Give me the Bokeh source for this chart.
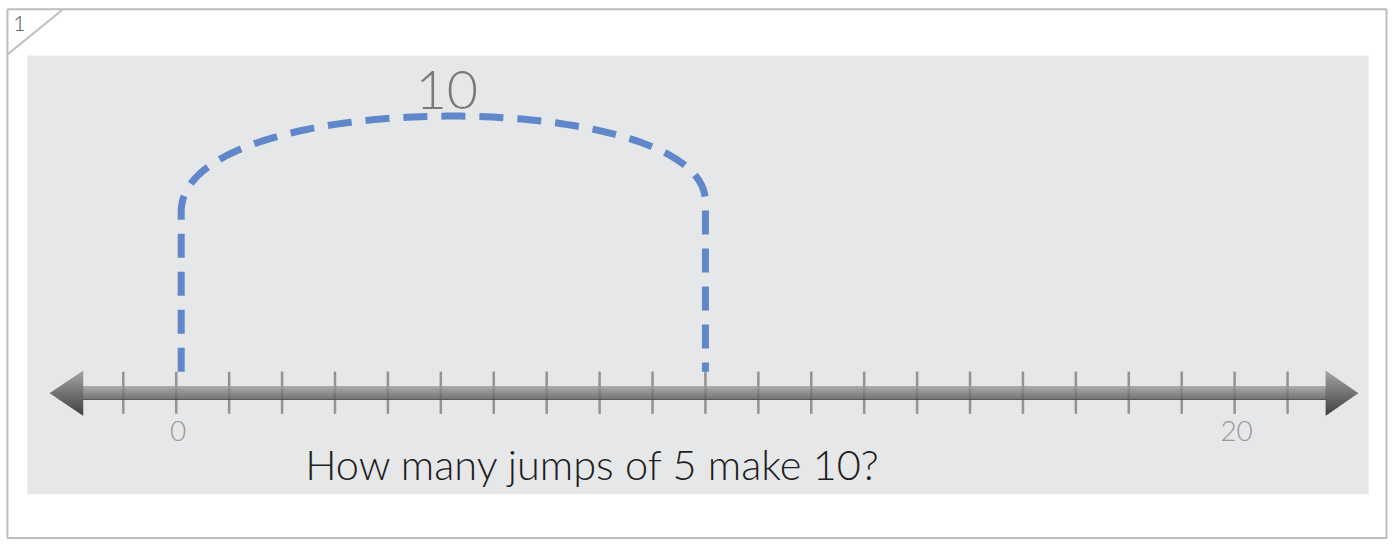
import numpy as np
from bokeh.plotting import figure
from bokeh.models import Range1d
from bokeh.core.properties import value
from bokeh.embed import file_html
from bokeh.resources import INLINE

# ---------------- data ----------------
tick_values = list(range(-1, 22))          # number-line ticks
label_values = [0, 20]                      # labelled ticks
label_texts = ["0", "20"]
jump_starts = [0]
jump_ends = [10]
jump_labels = ["10"]
question = "How many jumps of 5 make 10?"
problem_number = "1"

# ---------------- layout (pixels) ----------------
W, H = 1390, 540
REF_W, REF_H = 1400.0, 550.0
FX, FY = W / REF_W, H / REF_H
ORIGIN_SX = 177.0       # reference x of 0
UNIT = 53.3             # reference px per unit
AXIS_SY = 400.0         # reference y of the number line


def X(sx):
    return (sx - ORIGIN_SX) / UNIT


def Y(sy):
    return (AXIS_SY - sy) * FY


p = figure(width=W, height=H, output_backend="svg", toolbar_location=None,
           x_range=Range1d(X(0), X(REF_W)),
           y_range=Range1d(Y(REF_H), Y(0)),
           min_border=0, outline_line_color=None,
           background_fill_color="white", border_fill_color="white")
p.axis.visible = False
p.grid.visible = False

LIGHT = value("Lato Light")

# outer frame and corner
FRAME = "#bdbdbd"
p.line([X(7), X(1396), X(1396), X(7), X(7)],
       [Y(9), Y(9), Y(547.5), Y(547.5), Y(9)], line_color=FRAME, line_width=2)
p.line([X(7), X(63)], [Y(55), Y(9)], line_color=FRAME, line_width=2)
p.text(x=[X(19)], y=[Y(23)], text=[problem_number], text_color="#555555",
       text_font=LIGHT, text_font_size="22px",
       text_align="center", text_baseline="middle")

# grey panel
p.quad(left=[X(27)], right=[X(1378)], top=[Y(56)], bottom=[Y(503)],
       fill_color="#e6e7e9", line_color=None)

# ticks
p.segment(x0=tick_values, x1=tick_values, y0=[Y(378)] * len(tick_values),
          y1=[Y(421)] * len(tick_values), line_color="#939393", line_width=2.5)


def lerp_col(c0, c1, t):
    a = np.array([int(c0[i:i + 2], 16) for i in (1, 3, 5)], float)
    b = np.array([int(c1[i:i + 2], 16) for i in (1, 3, 5)], float)
    c = (a + (b - a) * t).round().astype(int)
    return "#%02x%02x%02x" % tuple(c)


# bar with vertical gradient
bar_left, bar_right = X(81), X(1336)
half_bar = 7.0 * FY
nb = 14
edges = np.linspace(half_bar, -half_bar, nb + 1)
p.quad(left=[bar_left] * nb, right=[bar_right] * nb,
       top=list(edges[:-1]), bottom=list(edges[1:]),
       fill_color=[lerp_col("#9a9a9a", "#585858", i / (nb - 1)) for i in range(nb)],
       line_color=None)

# arrow heads with gradient
half_head = 22.5 * FY
nh = 22
hedges = np.linspace(half_head, -half_head, nh + 1)


def arrow(tip, base):
    xs, ys, cols = [], [], []

    def edge(y):
        return base + (tip - base) * (1 - abs(y) / half_head)
    for i in range(nh):
        ya, yb = hedges[i], hedges[i + 1]
        if ya > 0 > yb:
            px = [base, edge(ya), tip, edge(yb), base]
            py = [ya, ya, 0, yb, yb]
        else:
            px = [base, edge(ya), edge(yb), base]
            py = [ya, ya, yb, yb]
        xs.append(px)
        ys.append(py)
        cols.append(lerp_col("#a0a0a0", "#404040", i / (nh - 1)))
    p.patches(xs, ys, fill_color=cols, line_color=cols, line_width=0.6)


arrow(X(50), X(83))
arrow(X(1367), X(1335))

# tick labels
p.text(x=label_values, y=[Y(438)] * len(label_values), text=label_texts,
       x_offset=2, text_color="#999999", text_font=LIGHT, text_font_size="28px",
       text_align="center", text_baseline="middle")

# jumps (dashed arcs)
bottom_y = Y(378)
left_top_y = Y(215)
right_top_y = Y(205)
ctrl_y = Y(87)
for s, e, lab in zip(jump_starts, jump_ends, jump_labels):
    xl = s + 5 / UNIT
    xr = e
    t = np.linspace(0, 1, 120)
    bx = (1 - t) ** 3 * xl + 3 * (1 - t) ** 2 * t * xl + 3 * (1 - t) * t ** 2 * xr + t ** 3 * xr
    by = ((1 - t) ** 3 * left_top_y + 3 * (1 - t) ** 2 * t * ctrl_y
          + 3 * (1 - t) * t ** 2 * ctrl_y + t ** 3 * right_top_y)
    xs = np.concatenate([[xl], bx, [xr]])
    ys = np.concatenate([[bottom_y], by, [bottom_y]])
    p.line(xs, ys, line_color="#5f87c9", line_width=7, line_dash="24 14")
    top = by.max()
    p.text(x=[(s + e) / 2], y=[top + 27 * FY], text=[lab], x_offset=6,
           text_color="#7a7a7a", text_font=LIGHT, text_font_size="54px",
           text_align="center", text_baseline="middle")

# question
p.text(x=[X(597)], y=[Y(472)], text=[question], text_color="#1e1e1e",
       text_font=LIGHT, text_font_size="41.5px",
       text_align="center", text_baseline="middle")

open("out.html", "w").write(file_html(p, INLINE))
